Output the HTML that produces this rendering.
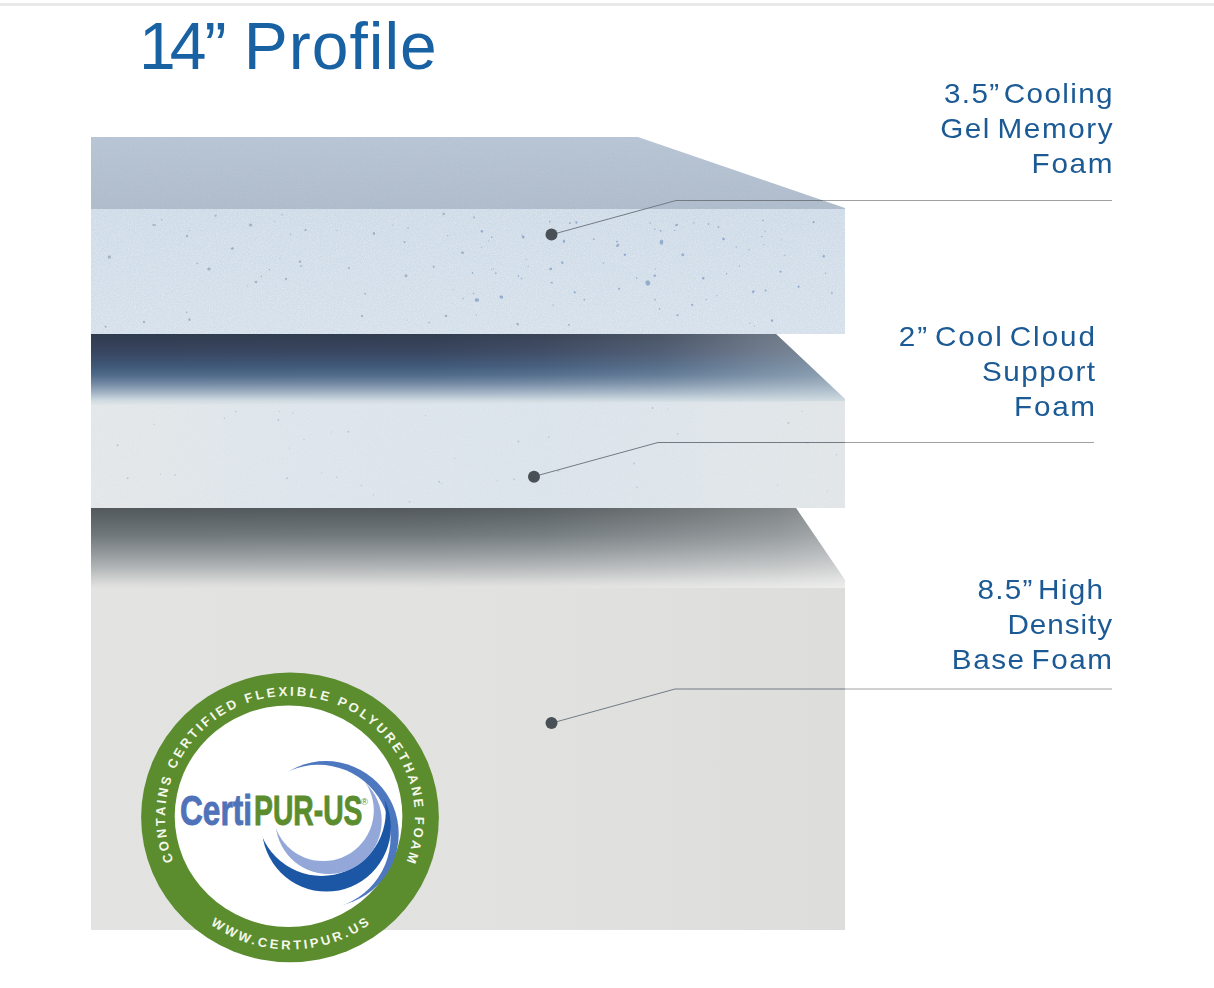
<!DOCTYPE html>
<html lang="en">
<head>
<meta charset="utf-8">
<title>14” Profile</title>
<style>
  html, body { margin: 0; padding: 0; background: #ffffff; }
  body { width: 1214px; height: 988px; position: relative; overflow: hidden;
         font-family: "Liberation Sans", sans-serif; }
  #art { position: absolute; left: 0; top: 0; width: 1214px; height: 988px; display: block; }
  .topbar { position: absolute; left: 0; top: 3px; width: 1214px; height: 3px; background: #e9e9e9; }
  h1 { position: absolute; margin: 0; left: 139px; top: 8px; font-weight: 400; font-size: 66px;
       line-height: 76px; color: #1862a3; white-space: nowrap; }
  h1 .n { letter-spacing: -6px; }
  h1 .g { letter-spacing: -2px; }
  h1 .w { letter-spacing: 1.0px; margin-left: 1px; }
  .label { position: absolute; margin: 0; text-align: right; color: #1b5a94; font-size: 28px;
           line-height: 35px; white-space: nowrap; font-weight: 400; }
  .label span { display: block; transform: scaleX(1.06); transform-origin: 100% 50%; }
  #l1 { right: 101px; top: 76px; }
  #l2 { right: 119px; top: 319px; }
  #l3 { right: 102px; top: 572px; }
</style>
</head>
<body>
<div class="topbar"></div>

<svg id="art" width="1214" height="988" viewBox="0 0 1214 988">
  <defs>
    <linearGradient id="gTop1" x1="0" y1="0" x2="0" y2="1">
      <stop offset="0" stop-color="#b6c4d4"/>
      <stop offset="1" stop-color="#aebbcb"/>
    </linearGradient>
    <linearGradient id="gFront1" x1="0" y1="0" x2="0" y2="1">
      <stop offset="0" stop-color="#d0dce8"/>
      <stop offset="1" stop-color="#d6e1eb"/>
    </linearGradient>
    <linearGradient id="gTop2" gradientUnits="userSpaceOnUse" x1="0" y1="334" x2="0" y2="405">
      <stop offset="0" stop-color="#2f3b4d"/>
      <stop offset="0.25" stop-color="#384560"/>
      <stop offset="0.45" stop-color="#3f5878"/>
      <stop offset="0.58" stop-color="#4f6a8a"/>
      <stop offset="0.70" stop-color="#7389a3"/>
      <stop offset="0.83" stop-color="#a3b4c6"/>
      <stop offset="0.93" stop-color="#cdd9e0"/>
      <stop offset="1" stop-color="#e0e5e8"/>
    </linearGradient>
    <linearGradient id="gTop2h" gradientUnits="userSpaceOnUse" x1="91" y1="0" x2="845" y2="0">
      <stop offset="0" stop-color="#d0dbdf" stop-opacity="0"/>
      <stop offset="0.45" stop-color="#d0dbdf" stop-opacity="0.01"/>
      <stop offset="0.6" stop-color="#d0dbdf" stop-opacity="0.06"/>
      <stop offset="0.755" stop-color="#d0dbdf" stop-opacity="0.17"/>
      <stop offset="0.887" stop-color="#d0dbdf" stop-opacity="0.36"/>
      <stop offset="1" stop-color="#d0dbdf" stop-opacity="0.5"/>
    </linearGradient>
    <linearGradient id="gFront2" x1="0" y1="0" x2="1" y2="0">
      <stop offset="0" stop-color="#e3e6e8"/>
      <stop offset="0.25" stop-color="#dde5eb"/>
      <stop offset="0.6" stop-color="#dae3eb"/>
      <stop offset="0.85" stop-color="#dfe5e9"/>
      <stop offset="1" stop-color="#e1e5e8"/>
    </linearGradient>
    <linearGradient id="gTop3" gradientUnits="userSpaceOnUse" x1="0" y1="508" x2="0" y2="588">
      <stop offset="0" stop-color="#52585b"/>
      <stop offset="0.15" stop-color="#5f6669"/>
      <stop offset="0.34" stop-color="#71787c"/>
      <stop offset="0.53" stop-color="#8d9396"/>
      <stop offset="0.72" stop-color="#adb1b2"/>
      <stop offset="0.89" stop-color="#cfd1d0"/>
      <stop offset="0.975" stop-color="#dfdfdd"/>
      <stop offset="1" stop-color="#e1e1df"/>
    </linearGradient>
    <linearGradient id="gTop3h" gradientUnits="userSpaceOnUse" x1="91" y1="0" x2="845" y2="0">
      <stop offset="0" stop-color="#ffffff" stop-opacity="0"/>
      <stop offset="0.45" stop-color="#ffffff" stop-opacity="0.01"/>
      <stop offset="0.6" stop-color="#ffffff" stop-opacity="0.05"/>
      <stop offset="0.755" stop-color="#ffffff" stop-opacity="0.15"/>
      <stop offset="0.914" stop-color="#ffffff" stop-opacity="0.27"/>
      <stop offset="1" stop-color="#ffffff" stop-opacity="0.4"/>
    </linearGradient>
    <linearGradient id="gFront3" x1="0" y1="0" x2="1" y2="0">
      <stop offset="0" stop-color="#e3e3e1"/>
      <stop offset="0.6" stop-color="#e1e1df"/>
      <stop offset="1" stop-color="#dddddb"/>
    </linearGradient>
    <filter id="grain" x="0" y="0" width="100%" height="100%">
      <feTurbulence type="fractalNoise" baseFrequency="0.85" numOctaves="2" seed="4"/>
      <feColorMatrix type="matrix" values="0 0 0 0 0.52  0 0 0 0 0.62  0 0 0 0 0.74  1.6 0 0 0 -0.62"/>
    </filter>
    <filter id="grainW" x="0" y="0" width="100%" height="100%">
      <feTurbulence type="fractalNoise" baseFrequency="0.85" numOctaves="2" seed="9"/>
      <feColorMatrix type="matrix" values="0 0 0 0 1  0 0 0 0 1  0 0 0 0 1  1.6 0 0 0 -0.62"/>
    </filter>

    <!-- badge crescent masks -->
    <mask id="mM" maskUnits="userSpaceOnUse" x="230" y="740" width="200" height="180">
      <rect x="230" y="740" width="200" height="180" fill="#fff"/>
      <circle cx="318.3" cy="837.1" r="72.3" fill="#000"/>
    </mask>
    <mask id="mD" maskUnits="userSpaceOnUse" x="230" y="740" width="200" height="180">
      <rect x="230" y="740" width="200" height="180" fill="#fff"/>
      <circle cx="321.5" cy="811.6" r="64.3" fill="#000"/>
    </mask>
    <mask id="mL" maskUnits="userSpaceOnUse" x="230" y="740" width="200" height="180">
      <rect x="230" y="740" width="200" height="180" fill="#fff"/>
      <circle cx="323.2" cy="810.5" r="50.6" fill="#000"/>
    </mask>
  </defs>

  <!-- layer 3 : base foam -->
  <rect x="91" y="584" width="754" height="346" fill="url(#gFront3)"/>
  <polygon points="91,508 796,508 845,580 845,588 91,588" fill="url(#gTop3)"/>
  <polygon points="91,508 796,508 845,580 845,588 91,588" fill="url(#gTop3h)"/>

  <!-- layer 2 : support foam -->
  <rect x="91" y="399" width="754" height="109" fill="url(#gFront2)"/>
  <rect x="91" y="405" width="754" height="103" filter="url(#grainW)" opacity="0.22"/>
  <g>
    <circle cx="652.5" cy="408.1" r="1.0" fill="#b9c7d4"/>
    <circle cx="636.9" cy="487.2" r="0.8" fill="#b9c7d4"/>
    <circle cx="425.5" cy="415.7" r="0.6" fill="#b9c7d4"/>
    <circle cx="304.0" cy="439.4" r="0.6" fill="#b9c7d4"/>
    <circle cx="514.2" cy="479.4" r="0.8" fill="#b9c7d4"/>
    <circle cx="361.4" cy="485.5" r="0.8" fill="#b9c7d4"/>
    <circle cx="160.6" cy="474.1" r="0.6" fill="#b9c7d4"/>
    <circle cx="373.4" cy="495.1" r="0.6" fill="#b9c7d4"/>
    <circle cx="336.5" cy="477.3" r="0.8" fill="#b9c7d4"/>
    <circle cx="117.6" cy="445.3" r="1.0" fill="#b9c7d4"/>
    <circle cx="667.7" cy="409.0" r="0.6" fill="#b9c7d4"/>
    <circle cx="441.6" cy="483.7" r="0.6" fill="#b9c7d4"/>
    <circle cx="287.0" cy="478.2" r="1.0" fill="#b9c7d4"/>
    <circle cx="348.3" cy="431.7" r="1.0" fill="#b9c7d4"/>
    <circle cx="127.6" cy="478.2" r="1.0" fill="#b9c7d4"/>
    <circle cx="331.4" cy="432.0" r="0.6" fill="#b9c7d4"/>
    <circle cx="634.0" cy="463.4" r="1.0" fill="#b9c7d4"/>
    <circle cx="802.0" cy="411.4" r="0.6" fill="#b9c7d4"/>
    <circle cx="175.1" cy="475.1" r="0.8" fill="#b9c7d4"/>
    <circle cx="807.6" cy="442.9" r="0.8" fill="#b9c7d4"/>
    <circle cx="777.4" cy="484.9" r="0.6" fill="#b9c7d4"/>
    <circle cx="788.3" cy="422.9" r="1.0" fill="#b9c7d4"/>
    <circle cx="321.6" cy="472.8" r="0.6" fill="#b9c7d4"/>
    <circle cx="548.6" cy="437.1" r="0.8" fill="#b9c7d4"/>
    <circle cx="439.2" cy="481.8" r="1.0" fill="#b9c7d4"/>
    <circle cx="154.0" cy="424.3" r="0.6" fill="#b9c7d4"/>
    <circle cx="279.7" cy="411.3" r="0.6" fill="#b9c7d4"/>
    <circle cx="454.8" cy="458.4" r="0.6" fill="#b9c7d4"/>
    <circle cx="827.3" cy="491.6" r="0.6" fill="#b9c7d4"/>
    <circle cx="292.9" cy="413.2" r="0.6" fill="#b9c7d4"/>
    <circle cx="409.5" cy="501.9" r="0.8" fill="#b9c7d4"/>
    <circle cx="224.4" cy="418.0" r="0.8" fill="#b9c7d4"/>
    <circle cx="558.4" cy="471.1" r="1.0" fill="#b9c7d4"/>
    <circle cx="497.3" cy="480.8" r="0.6" fill="#b9c7d4"/>
    <circle cx="677.5" cy="433.8" r="0.8" fill="#b9c7d4"/>
    <circle cx="518.5" cy="441.6" r="1.0" fill="#b9c7d4"/>
    <circle cx="289.5" cy="448.1" r="0.6" fill="#b9c7d4"/>
    <circle cx="278.3" cy="420.0" r="1.0" fill="#b9c7d4"/>
    <circle cx="235.6" cy="411.4" r="0.8" fill="#b9c7d4"/>
    <circle cx="836.4" cy="454.7" r="0.6" fill="#b9c7d4"/>
  </g>
  <polygon points="91,334 776,334 845,399 845,401 91,405" fill="url(#gTop2)"/>
  <polygon points="91,334 776,334 845,399 845,401 91,405" fill="url(#gTop2h)"/>

  <!-- layer 1 : gel memory foam -->
  <polygon points="91,137 638,137 845,208 845,209 91,209" fill="url(#gTop1)"/>
  <polygon points="91,137 638,137 845,208 845,209 91,209" filter="url(#grainW)" opacity="0.10"/>
  <rect x="91" y="209" width="754" height="125" fill="url(#gFront1)"/>
  <rect x="91" y="209" width="754" height="125" filter="url(#grain)" opacity="0.40"/>
  <rect x="91" y="209" width="754" height="125" filter="url(#grainW)" opacity="0.42"/>
  <g>
    <ellipse cx="153.5" cy="225.0" rx="1.3" ry="1.0" fill="#9aa9b9" opacity="0.85" transform="rotate(33 153.5 225.0)"/>
    <ellipse cx="250.6" cy="225.0" rx="1.5" ry="1.7" fill="#9aa9b9" opacity="0.85" transform="rotate(65 250.6 225.0)"/>
    <ellipse cx="232.4" cy="248.5" rx="1.6" ry="1.2" fill="#9aa9b9" opacity="0.85" transform="rotate(170 232.4 248.5)"/>
    <ellipse cx="109.4" cy="257.0" rx="1.7" ry="1.5" fill="#9aa9b9" opacity="0.85" transform="rotate(171 109.4 257.0)"/>
    <ellipse cx="209.0" cy="269.0" rx="1.8" ry="1.4" fill="#9aa9b9" opacity="0.85" transform="rotate(177 209.0 269.0)"/>
    <ellipse cx="256.0" cy="282.0" rx="1.3" ry="1.2" fill="#9aa9b9" opacity="0.85" transform="rotate(40 256.0 282.0)"/>
    <ellipse cx="286.0" cy="279.0" rx="1.2" ry="1.0" fill="#9aa9b9" opacity="0.85" transform="rotate(93 286.0 279.0)"/>
    <ellipse cx="300.0" cy="261.7" rx="1.4" ry="1.2" fill="#9aa9b9" opacity="0.85" transform="rotate(140 300.0 261.7)"/>
    <ellipse cx="301.0" cy="266.0" rx="1.1" ry="0.8" fill="#9aa9b9" opacity="0.85" transform="rotate(79 301.0 266.0)"/>
    <ellipse cx="374.0" cy="233.5" rx="1.4" ry="1.2" fill="#9aa9b9" opacity="0.85" transform="rotate(85 374.0 233.5)"/>
    <ellipse cx="406.0" cy="275.7" rx="1.5" ry="1.4" fill="#9aa9b9" opacity="0.85" transform="rotate(128 406.0 275.7)"/>
    <ellipse cx="462.5" cy="252.6" rx="1.6" ry="1.2" fill="#9aa9b9" opacity="0.85" transform="rotate(1 462.5 252.6)"/>
    <ellipse cx="443.7" cy="214.0" rx="1.1" ry="1.4" fill="#9aa9b9" opacity="0.85" transform="rotate(36 443.7 214.0)"/>
    <ellipse cx="362.0" cy="316.0" rx="1.2" ry="0.9" fill="#9aa9b9" opacity="0.85" transform="rotate(5 362.0 316.0)"/>
    <ellipse cx="189.5" cy="319.6" rx="1.3" ry="1.3" fill="#9aa9b9" opacity="0.85" transform="rotate(21 189.5 319.6)"/>
    <ellipse cx="144.0" cy="322.0" rx="1.3" ry="1.1" fill="#9aa9b9" opacity="0.85" transform="rotate(39 144.0 322.0)"/>
    <ellipse cx="446.0" cy="316.0" rx="1.4" ry="1.2" fill="#9aa9b9" opacity="0.85" transform="rotate(152 446.0 316.0)"/>
    <ellipse cx="349.0" cy="268.0" rx="1.1" ry="0.9" fill="#9aa9b9" opacity="0.85" transform="rotate(126 349.0 268.0)"/>
    <ellipse cx="404.6" cy="242.0" rx="1.0" ry="1.1" fill="#9aa9b9" opacity="0.85" transform="rotate(164 404.6 242.0)"/>
    <ellipse cx="433.7" cy="266.7" rx="1.0" ry="1.1" fill="#9aa9b9" opacity="0.85" transform="rotate(131 433.7 266.7)"/>
    <ellipse cx="187.0" cy="236.0" rx="1.2" ry="1.1" fill="#9aa9b9" opacity="0.85" transform="rotate(129 187.0 236.0)"/>
    <ellipse cx="481.9" cy="231.3" rx="1.3" ry="1.3" fill="#8aa3c7" opacity="0.85" transform="rotate(129 481.9 231.3)"/>
    <ellipse cx="523.2" cy="237.0" rx="1.4" ry="1.4" fill="#8aa3c7" opacity="0.85" transform="rotate(4 523.2 237.0)"/>
    <ellipse cx="476.9" cy="300.0" rx="2.2" ry="1.8" fill="#8aa3c7" opacity="0.85" transform="rotate(174 476.9 300.0)"/>
    <ellipse cx="501.3" cy="297.0" rx="1.9" ry="1.5" fill="#8aa3c7" opacity="0.85" transform="rotate(21 501.3 297.0)"/>
    <ellipse cx="576.4" cy="222.5" rx="1.2" ry="1.1" fill="#8aa3c7" opacity="0.85" transform="rotate(92 576.4 222.5)"/>
    <ellipse cx="563.9" cy="241.3" rx="1.7" ry="1.1" fill="#8aa3c7" opacity="0.85" transform="rotate(115 563.9 241.3)"/>
    <ellipse cx="550.7" cy="268.9" rx="1.4" ry="1.3" fill="#8aa3c7" opacity="0.85" transform="rotate(160 550.7 268.9)"/>
    <ellipse cx="562.3" cy="262.6" rx="1.4" ry="1.1" fill="#8aa3c7" opacity="0.85" transform="rotate(67 562.3 262.6)"/>
    <ellipse cx="574.8" cy="292.3" rx="1.0" ry="1.2" fill="#8aa3c7" opacity="0.85" transform="rotate(128 574.8 292.3)"/>
    <ellipse cx="617.7" cy="245.4" rx="1.9" ry="1.2" fill="#8aa3c7" opacity="0.85" transform="rotate(134 617.7 245.4)"/>
    <ellipse cx="624.9" cy="254.8" rx="1.1" ry="1.3" fill="#8aa3c7" opacity="0.85" transform="rotate(64 624.9 254.8)"/>
    <ellipse cx="647.8" cy="283.0" rx="2.6" ry="2.3" fill="#8aa3c7" opacity="0.85" transform="rotate(60 647.8 283.0)"/>
    <ellipse cx="654.7" cy="275.7" rx="1.5" ry="1.1" fill="#8aa3c7" opacity="0.85" transform="rotate(166 654.7 275.7)"/>
    <ellipse cx="661.5" cy="242.3" rx="2.5" ry="1.8" fill="#8aa3c7" opacity="0.85" transform="rotate(97 661.5 242.3)"/>
    <ellipse cx="676.6" cy="225.0" rx="1.1" ry="1.4" fill="#8aa3c7" opacity="0.85" transform="rotate(73 676.6 225.0)"/>
    <ellipse cx="682.8" cy="254.8" rx="1.5" ry="1.3" fill="#8aa3c7" opacity="0.85" transform="rotate(164 682.8 254.8)"/>
    <ellipse cx="703.2" cy="278.2" rx="1.3" ry="1.4" fill="#8aa3c7" opacity="0.85" transform="rotate(84 703.2 278.2)"/>
    <ellipse cx="723.5" cy="239.0" rx="1.3" ry="1.4" fill="#8aa3c7" opacity="0.85" transform="rotate(77 723.5 239.0)"/>
    <ellipse cx="753.2" cy="291.7" rx="1.6" ry="1.1" fill="#8aa3c7" opacity="0.85" transform="rotate(123 753.2 291.7)"/>
    <ellipse cx="823.7" cy="256.3" rx="1.3" ry="1.3" fill="#8aa3c7" opacity="0.85" transform="rotate(172 823.7 256.3)"/>
    <ellipse cx="692.2" cy="304.9" rx="1.1" ry="1.1" fill="#8aa3c7" opacity="0.85" transform="rotate(125 692.2 304.9)"/>
    <ellipse cx="798.6" cy="286.7" rx="1.1" ry="1.1" fill="#8aa3c7" opacity="0.85" transform="rotate(118 798.6 286.7)"/>
    <ellipse cx="772.0" cy="320.5" rx="1.2" ry="1.2" fill="#8aa3c7" opacity="0.85" transform="rotate(140 772.0 320.5)"/>
    <ellipse cx="336.9" cy="230.6" rx="0.5" ry="0.6" fill="#9aa9b9" opacity="0.85" transform="rotate(121 336.9 230.6)"/>
    <ellipse cx="708.5" cy="224.0" rx="0.8" ry="0.9" fill="#8aa3c7" opacity="0.85" transform="rotate(129 708.5 224.0)"/>
    <ellipse cx="474.1" cy="217.4" rx="1.1" ry="0.8" fill="#8aa3c7" opacity="0.85" transform="rotate(68 474.1 217.4)"/>
    <ellipse cx="517.4" cy="323.9" rx="1.0" ry="1.0" fill="#9aa9b9" opacity="0.85" transform="rotate(53 517.4 323.9)"/>
    <ellipse cx="526.1" cy="259.4" rx="0.6" ry="0.5" fill="#8aa3c7" opacity="0.85" transform="rotate(134 526.1 259.4)"/>
    <ellipse cx="736.3" cy="246.9" rx="0.6" ry="0.6" fill="#8aa3c7" opacity="0.85" transform="rotate(154 736.3 246.9)"/>
    <ellipse cx="521.5" cy="278.6" rx="0.8" ry="0.6" fill="#8aa3c7" opacity="0.85" transform="rotate(28 521.5 278.6)"/>
    <ellipse cx="521.7" cy="235.0" rx="0.6" ry="0.4" fill="#8aa3c7" opacity="0.85" transform="rotate(124 521.7 235.0)"/>
    <ellipse cx="603.3" cy="263.0" rx="0.8" ry="0.6" fill="#8aa3c7" opacity="0.85" transform="rotate(125 603.3 263.0)"/>
    <ellipse cx="784.8" cy="255.3" rx="0.7" ry="0.6" fill="#9aa9b9" opacity="0.85" transform="rotate(36 784.8 255.3)"/>
    <ellipse cx="617.1" cy="241.6" rx="1.0" ry="0.9" fill="#8aa3c7" opacity="0.85" transform="rotate(30 617.1 241.6)"/>
    <ellipse cx="549.9" cy="221.6" rx="1.2" ry="0.7" fill="#8aa3c7" opacity="0.85" transform="rotate(86 549.9 221.6)"/>
    <ellipse cx="660.6" cy="230.8" rx="1.1" ry="0.7" fill="#8aa3c7" opacity="0.85" transform="rotate(50 660.6 230.8)"/>
    <ellipse cx="813.6" cy="222.1" rx="1.1" ry="1.0" fill="#8aa3c7" opacity="0.85" transform="rotate(74 813.6 222.1)"/>
    <ellipse cx="749.0" cy="249.7" rx="0.7" ry="0.6" fill="#8aa3c7" opacity="0.85" transform="rotate(99 749.0 249.7)"/>
    <ellipse cx="528.2" cy="266.4" rx="0.7" ry="0.5" fill="#9aa9b9" opacity="0.85" transform="rotate(92 528.2 266.4)"/>
    <ellipse cx="619.0" cy="288.7" rx="1.1" ry="0.9" fill="#8aa3c7" opacity="0.85" transform="rotate(12 619.0 288.7)"/>
    <ellipse cx="280.0" cy="258.7" rx="0.5" ry="0.4" fill="#9aa9b9" opacity="0.85" transform="rotate(169 280.0 258.7)"/>
    <ellipse cx="197.3" cy="263.4" rx="0.8" ry="0.9" fill="#9aa9b9" opacity="0.85" transform="rotate(63 197.3 263.4)"/>
    <ellipse cx="831.9" cy="292.9" rx="1.1" ry="0.8" fill="#9aa9b9" opacity="0.85" transform="rotate(80 831.9 292.9)"/>
    <ellipse cx="269.3" cy="269.7" rx="0.7" ry="0.7" fill="#9aa9b9" opacity="0.85" transform="rotate(109 269.3 269.7)"/>
    <ellipse cx="305.6" cy="230.0" rx="1.2" ry="1.0" fill="#9aa9b9" opacity="0.85" transform="rotate(161 305.6 230.0)"/>
    <ellipse cx="518.1" cy="324.5" rx="1.0" ry="1.0" fill="#9aa9b9" opacity="0.85" transform="rotate(141 518.1 324.5)"/>
    <ellipse cx="584.3" cy="299.6" rx="0.9" ry="0.9" fill="#9aa9b9" opacity="0.85" transform="rotate(12 584.3 299.6)"/>
    <ellipse cx="677.6" cy="315.3" rx="1.2" ry="0.9" fill="#8aa3c7" opacity="0.85" transform="rotate(157 677.6 315.3)"/>
    <ellipse cx="393.0" cy="225.1" rx="0.6" ry="0.5" fill="#9aa9b9" opacity="0.85" transform="rotate(73 393.0 225.1)"/>
    <ellipse cx="518.4" cy="275.8" rx="0.8" ry="0.8" fill="#8aa3c7" opacity="0.85" transform="rotate(140 518.4 275.8)"/>
    <ellipse cx="568.9" cy="324.8" rx="0.9" ry="0.9" fill="#8aa3c7" opacity="0.85" transform="rotate(87 568.9 324.8)"/>
    <ellipse cx="186.8" cy="312.3" rx="0.8" ry="0.7" fill="#9aa9b9" opacity="0.85" transform="rotate(167 186.8 312.3)"/>
    <ellipse cx="655.0" cy="299.6" rx="0.8" ry="0.8" fill="#9aa9b9" opacity="0.85" transform="rotate(77 655.0 299.6)"/>
    <ellipse cx="215.6" cy="215.7" rx="1.0" ry="1.0" fill="#9aa9b9" opacity="0.85" transform="rotate(30 215.6 215.7)"/>
    <ellipse cx="365.2" cy="293.7" rx="0.9" ry="0.8" fill="#9aa9b9" opacity="0.85" transform="rotate(53 365.2 293.7)"/>
    <ellipse cx="726.5" cy="273.7" rx="0.7" ry="0.7" fill="#8aa3c7" opacity="0.85" transform="rotate(140 726.5 273.7)"/>
    <ellipse cx="261.4" cy="276.4" rx="0.6" ry="0.7" fill="#9aa9b9" opacity="0.85" transform="rotate(115 261.4 276.4)"/>
    <ellipse cx="553.1" cy="305.2" rx="0.7" ry="0.6" fill="#9aa9b9" opacity="0.85" transform="rotate(62 553.1 305.2)"/>
    <ellipse cx="706.3" cy="299.6" rx="0.6" ry="0.6" fill="#8aa3c7" opacity="0.85" transform="rotate(23 706.3 299.6)"/>
    <ellipse cx="463.1" cy="298.5" rx="0.7" ry="0.7" fill="#9aa9b9" opacity="0.85" transform="rotate(145 463.1 298.5)"/>
    <ellipse cx="447.8" cy="235.7" rx="0.7" ry="0.6" fill="#9aa9b9" opacity="0.85" transform="rotate(105 447.8 235.7)"/>
    <ellipse cx="429.1" cy="322.6" rx="0.8" ry="0.8" fill="#9aa9b9" opacity="0.85" transform="rotate(53 429.1 322.6)"/>
    <ellipse cx="155.2" cy="225.0" rx="0.8" ry="0.7" fill="#9aa9b9" opacity="0.85" transform="rotate(15 155.2 225.0)"/>
    <ellipse cx="247.7" cy="286.0" rx="0.6" ry="0.5" fill="#9aa9b9" opacity="0.85" transform="rotate(92 247.7 286.0)"/>
    <ellipse cx="453.2" cy="289.4" rx="0.5" ry="0.5" fill="#9aa9b9" opacity="0.85" transform="rotate(161 453.2 289.4)"/>
    <ellipse cx="718.5" cy="227.0" rx="1.0" ry="0.9" fill="#9aa9b9" opacity="0.85" transform="rotate(23 718.5 227.0)"/>
    <ellipse cx="655.4" cy="268.9" rx="0.6" ry="0.5" fill="#8aa3c7" opacity="0.85" transform="rotate(102 655.4 268.9)"/>
    <ellipse cx="570.0" cy="223.1" rx="1.0" ry="0.8" fill="#8aa3c7" opacity="0.85" transform="rotate(79 570.0 223.1)"/>
    <ellipse cx="650.3" cy="222.9" rx="0.8" ry="0.7" fill="#8aa3c7" opacity="0.85" transform="rotate(5 650.3 222.9)"/>
    <ellipse cx="189.9" cy="230.7" rx="0.6" ry="0.6" fill="#9aa9b9" opacity="0.85" transform="rotate(121 189.9 230.7)"/>
    <ellipse cx="551.8" cy="282.7" rx="1.1" ry="0.8" fill="#8aa3c7" opacity="0.85" transform="rotate(18 551.8 282.7)"/>
    <ellipse cx="105.6" cy="326.6" rx="1.0" ry="1.1" fill="#9aa9b9" opacity="0.85" transform="rotate(135 105.6 326.6)"/>
    <ellipse cx="654.9" cy="229.3" rx="0.8" ry="0.7" fill="#9aa9b9" opacity="0.85" transform="rotate(63 654.9 229.3)"/>
    <ellipse cx="408.0" cy="228.3" rx="0.9" ry="0.6" fill="#9aa9b9" opacity="0.85" transform="rotate(38 408.0 228.3)"/>
    <ellipse cx="765.6" cy="290.5" rx="1.0" ry="1.0" fill="#8aa3c7" opacity="0.85" transform="rotate(179 765.6 290.5)"/>
    <ellipse cx="780.5" cy="271.7" rx="1.1" ry="1.0" fill="#8aa3c7" opacity="0.85" transform="rotate(117 780.5 271.7)"/>
    <ellipse cx="476.4" cy="315.1" rx="0.6" ry="0.7" fill="#8aa3c7" opacity="0.85" transform="rotate(0 476.4 315.1)"/>
    <ellipse cx="674.7" cy="230.5" rx="0.8" ry="0.5" fill="#8aa3c7" opacity="0.85" transform="rotate(9 674.7 230.5)"/>
    <ellipse cx="636.7" cy="278.1" rx="0.9" ry="0.6" fill="#8aa3c7" opacity="0.85" transform="rotate(32 636.7 278.1)"/>
    <ellipse cx="491.5" cy="269.5" rx="0.6" ry="0.5" fill="#9aa9b9" opacity="0.85" transform="rotate(111 491.5 269.5)"/>
    <ellipse cx="762.8" cy="220.4" rx="0.9" ry="0.6" fill="#8aa3c7" opacity="0.85" transform="rotate(18 762.8 220.4)"/>
    <ellipse cx="472.6" cy="272.9" rx="0.7" ry="0.8" fill="#8aa3c7" opacity="0.85" transform="rotate(49 472.6 272.9)"/>
    <ellipse cx="493.4" cy="268.9" rx="0.7" ry="0.5" fill="#8aa3c7" opacity="0.85" transform="rotate(153 493.4 268.9)"/>
    <ellipse cx="749.8" cy="323.2" rx="0.6" ry="0.7" fill="#9aa9b9" opacity="0.85" transform="rotate(117 749.8 323.2)"/>
    <ellipse cx="761.9" cy="236.7" rx="0.8" ry="0.7" fill="#8aa3c7" opacity="0.85" transform="rotate(62 761.9 236.7)"/>
    <ellipse cx="274.8" cy="221.6" rx="0.6" ry="0.4" fill="#9aa9b9" opacity="0.85" transform="rotate(63 274.8 221.6)"/>
    <ellipse cx="765.1" cy="231.1" rx="0.6" ry="0.7" fill="#8aa3c7" opacity="0.85" transform="rotate(166 765.1 231.1)"/>
    <ellipse cx="754.5" cy="326.2" rx="0.6" ry="0.5" fill="#9aa9b9" opacity="0.85" transform="rotate(127 754.5 326.2)"/>
    <ellipse cx="593.9" cy="239.2" rx="1.1" ry="0.8" fill="#9aa9b9" opacity="0.85" transform="rotate(20 593.9 239.2)"/>
    <ellipse cx="481.5" cy="247.6" rx="0.5" ry="0.5" fill="#8aa3c7" opacity="0.85" transform="rotate(94 481.5 247.6)"/>
    <ellipse cx="781.2" cy="239.7" rx="0.5" ry="0.4" fill="#8aa3c7" opacity="0.85" transform="rotate(86 781.2 239.7)"/>
    <ellipse cx="659.6" cy="308.9" rx="0.9" ry="0.7" fill="#8aa3c7" opacity="0.85" transform="rotate(101 659.6 308.9)"/>
    <ellipse cx="495.8" cy="273.2" rx="0.8" ry="0.9" fill="#9aa9b9" opacity="0.85" transform="rotate(129 495.8 273.2)"/>
    <ellipse cx="161.8" cy="219.7" rx="0.7" ry="0.8" fill="#9aa9b9" opacity="0.85" transform="rotate(51 161.8 219.7)"/>
    <ellipse cx="763.8" cy="244.5" rx="0.5" ry="0.6" fill="#8aa3c7" opacity="0.85" transform="rotate(59 763.8 244.5)"/>
    <ellipse cx="693.8" cy="222.8" rx="0.7" ry="0.5" fill="#8aa3c7" opacity="0.85" transform="rotate(75 693.8 222.8)"/>
    <ellipse cx="739.5" cy="266.1" rx="0.7" ry="0.7" fill="#9aa9b9" opacity="0.85" transform="rotate(156 739.5 266.1)"/>
    <ellipse cx="407.1" cy="320.1" rx="0.5" ry="0.4" fill="#9aa9b9" opacity="0.85" transform="rotate(106 407.1 320.1)"/>
    <ellipse cx="488.6" cy="240.9" rx="0.7" ry="0.4" fill="#9aa9b9" opacity="0.85" transform="rotate(152 488.6 240.9)"/>
    <ellipse cx="290.6" cy="234.2" rx="0.7" ry="0.7" fill="#9aa9b9" opacity="0.85" transform="rotate(54 290.6 234.2)"/>
    <ellipse cx="491.7" cy="237.1" rx="0.7" ry="0.8" fill="#8aa3c7" opacity="0.85" transform="rotate(106 491.7 237.1)"/>
    <ellipse cx="282.1" cy="214.8" rx="0.8" ry="0.7" fill="#9aa9b9" opacity="0.85" transform="rotate(100 282.1 214.8)"/>
    <ellipse cx="825.6" cy="273.2" rx="0.7" ry="0.7" fill="#9aa9b9" opacity="0.85" transform="rotate(80 825.6 273.2)"/>
    <ellipse cx="473.5" cy="293.5" rx="0.8" ry="0.7" fill="#8aa3c7" opacity="0.85" transform="rotate(42 473.5 293.5)"/>
    <ellipse cx="716.7" cy="295.7" rx="0.6" ry="0.5" fill="#8aa3c7" opacity="0.85" transform="rotate(134 716.7 295.7)"/>
  </g>

  <!-- leader lines -->
  <g fill="none" stroke="#727b84" stroke-width="1">
    <polyline points="552,234.5 676,200.5 823,200.5"/>
    <polyline points="534,476.5 658,442.5 845,442.5"/>
    <polyline points="552,723 675,689 845,689"/>
  </g>
  <g fill="none" stroke="#a0a0a0" stroke-width="1">
    <line x1="823" y1="200.5" x2="1112" y2="200.5"/>
    <line x1="845" y1="442.5" x2="1094" y2="442.5"/>
    <line x1="845" y1="689" x2="1112" y2="689"/>
  </g>
  <g fill="#4a5156">
    <circle cx="551.5" cy="234.5" r="6"/>
    <circle cx="534" cy="476.7" r="6"/>
    <circle cx="551.5" cy="723" r="6"/>
  </g>

  <!-- CertiPUR-US badge -->
  <g id="badge">
    <g transform="translate(290,817.3) scale(1.0135,0.9865)">
      <circle cx="0" cy="0" r="146.9" fill="#5b8c2d"/>
      <circle cx="-1.43" cy="-1.06" r="112.3" fill="#ffffff"/>
      <path id="arcTopFull" d="M -114.91 44.57 A 123.25 123.25 0 1 1 114.91 44.57" fill="none"/>
      <path id="arcBot" d="M -78.57 108.55 A 134.0 134.0 0 0 0 78.57 108.55" fill="none"/>
      <g font-family="'Liberation Sans', sans-serif" font-weight="700" font-size="13px" fill="#f4f8ec">
        <text><textPath href="#arcTopFull" textLength="478.4" lengthAdjust="spacing">CONTAINS CERTIFIED FLEXIBLE POLYURETHANE FOAM</textPath></text>
        <text><textPath href="#arcBot" textLength="167.9" lengthAdjust="spacing">WWW.CERTIPUR.US</textPath></text>
      </g>
    </g>
    <!-- swirl -->
    <circle cx="325.8" cy="834.0" r="72.9" fill="#4d78c0" mask="url(#mM)"/>
    <circle cx="326.4" cy="827.2" r="64.4" fill="#1c57a6" mask="url(#mD)"/>
    <circle cx="328.6" cy="821.0" r="53.1" fill="#93a8d9" mask="url(#mL)"/>
    <!-- wordmark -->
    <g font-family="'Liberation Sans', sans-serif" font-weight="700" font-size="42px">
      <text x="180" y="825.2" fill="#4f72b8" stroke="#4f72b8" stroke-width="0.9" textLength="72" lengthAdjust="spacingAndGlyphs">Certi</text>
      <text x="254" y="825.2" fill="#5b8c2d" stroke="#5b8c2d" stroke-width="0.9" textLength="108.5" lengthAdjust="spacingAndGlyphs">PUR-US</text>
      <text x="361" y="804.5" fill="#5b8c2d" font-size="9.5px" font-weight="400">®</text>
    </g>
  </g>
</svg>

<h1><span class="n">1</span><span class="g">4”</span> <span class="w">Profile</span></h1>

<p class="label" id="l1"><span style="letter-spacing:1.28px;margin-right:-1.28px;word-spacing:-6px">3.5” Cooling</span><span style="letter-spacing:1.46px;margin-right:-1.46px;word-spacing:-3px">Gel Memory</span><span style="letter-spacing:1.6px;margin-right:-1.60px">Foam</span></p>
<p class="label" id="l2"><span style="letter-spacing:1.83px;margin-right:-1.83px;word-spacing:-4px">2” Cool Cloud</span><span style="letter-spacing:1.43px;margin-right:-1.43px">Support</span><span style="letter-spacing:1.6px;margin-right:-1.60px">Foam</span></p>
<p class="label" id="l3"><span style="letter-spacing:1.24px;margin-right:7.76px;word-spacing:-5px">8.5” High</span><span style="letter-spacing:0.88px;margin-right:-0.88px">Density</span><span style="letter-spacing:1.43px;margin-right:-1.43px;word-spacing:-3.5px">Base Foam</span></p>


</body>
</html>
